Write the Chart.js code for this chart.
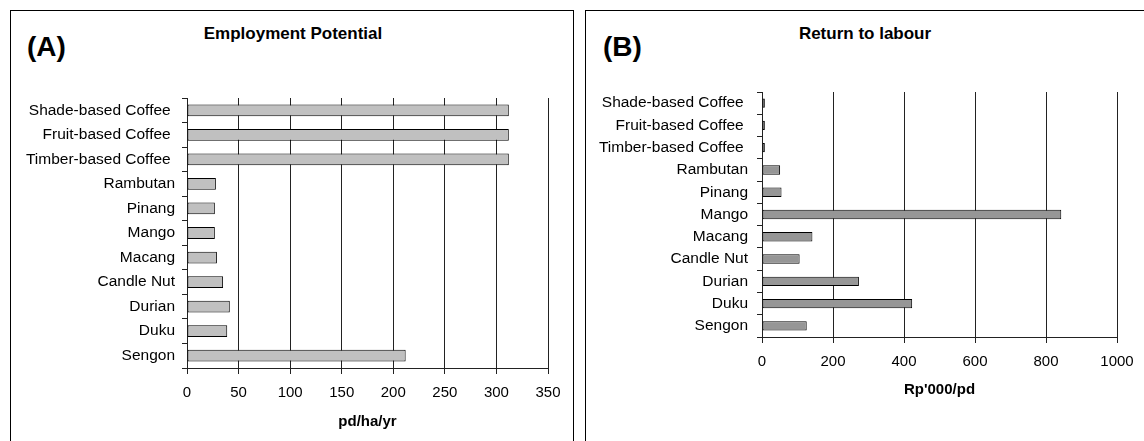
<!DOCTYPE html>
<html>
<head>
<meta charset="utf-8">
<script src="https://cdn.jsdelivr.net/npm/chart.js@4"></script>
<style>
  body { margin: 0; width: 1144px; height: 441px; background: #fff; overflow: hidden; position: relative; font-family: "Liberation Sans", Arial, sans-serif; }
  .panel { position: absolute; top: 10px; height: 500px; border: 1px solid #000; box-sizing: border-box; }
  .tag { position: absolute; top: 31px; font-weight: bold; font-size: 28px; line-height: 32px; }
  .title { position: absolute; top: 24px; width: 300px; margin-left: -150px; text-align: center; font-weight: bold; font-size: 17px; line-height: 20px; }
  canvas { position: absolute; top: 11px; }
</style>
</head>
<body>
<div class="panel" style="left:10px; width:564px"></div>
<div class="panel" style="left:585px; width:570px"></div>
<div class="tag" style="left:27px">(A)</div>
<div class="tag" style="left:603px">(B)</div>
<div class="title" style="left:293px">Employment Potential</div>
<div class="title" style="left:865px">Return to labour</div>
<canvas id="chartA" width="561" height="430" style="left:11px"></canvas>
<canvas id="chartB" width="558" height="430" style="left:586px"></canvas>
<script>
const categories = ["Shade-based Coffee ", "Fruit-based Coffee ", "Timber-based Coffee ", "Rambutan", "Pinang", "Mango", "Macang", "Candle Nut", "Durian", "Duku", "Sengon"];
const employment = [312, 312, 312, 28, 27, 27, 29, 35, 41.5, 39, 212];
const returnToLabour = [8, 8, 8, 51, 55, 843, 142, 106, 273, 423, 126];
const employmentAxis = { max: 350, step: 50 };
const returnAxis = { max: 1000, step: 200 };

const font = "'Liberation Sans', Arial, sans-serif";

function makeChart(id, values, axis, o) {
  return new Chart(document.getElementById(id), {
    type: "bar",
    data: {
      labels: categories,
      datasets: [{
        data: values,
        backgroundColor: o.fill,
        borderColor: "#000",
        borderWidth: 1,
        borderSkipped: false,
        barPercentage: o.bar,
        categoryPercentage: 1
      }]
    },
    options: {
      indexAxis: "y",
      responsive: false,
      animation: false,
      layout: { padding: { top: o.top, right: o.right, left: 0, bottom: 0 } },
      plugins: {
        legend: { display: false },
        tooltip: { enabled: false }
      },
      scales: {
        x: {
          min: 0,
          max: axis.max,
          ticks: { stepSize: axis.step, color: "#000", font: { family: font, size: 15 }, padding: 10, callback: v => String(v) },
          grid: { color: "#222", lineWidth: 1, tickLength: 6 },
          border: { color: "#222" },
          title: {
            display: true,
            text: o.unit,
            color: "#000",
            font: { family: font, size: 15, weight: "bold" },
            padding: { top: 0, bottom: o.unitGap }
          },
          afterFit: s => { s.height = o.xh; }
        },
        y: {
          ticks: { color: "#000", font: { family: font, size: 15.5 }, padding: o.labelPad },
          grid: { drawOnChartArea: false, color: "#222", tickLength: 5, offset: true },
          border: { color: "#222" },
          afterFit: s => { s.width = 176; }
        }
      }
    }
  });
}

makeChart("chartA", employment, employmentAxis, {
  fill: "#c0c0c0", bar: 0.48, top: 87, right: 24, xh: 73, unitGap: 10,
  unit: "pd/ha/yr", labelPad: 7
});

makeChart("chartB", returnToLabour, returnAxis, {
  fill: "#969696", bar: 0.42, top: 81, right: 27, xh: 104, unitGap: 42,
  unit: "Rp'000/pd", labelPad: 9
});
</script>
</body>
</html>
